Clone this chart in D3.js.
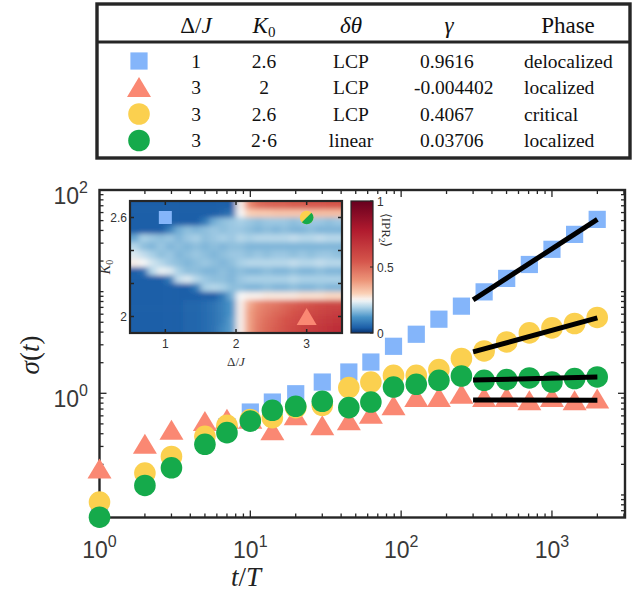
<!DOCTYPE html>
<html>
<head>
<meta charset="utf-8">
<script src="https://cdn.jsdelivr.net/npm/d3@7"></script>
<style>
  body { margin: 0; background: #fff; }
  svg { display: block; }
</style>
</head>
<body>
<div id="chart"></div>
<script>
// ---- data ----
const times = [1, 2, 3, 5, 7, 10, 14, 20, 30, 45, 63, 89, 126, 178, 251, 355, 501, 708, 1000, 1413, 1995];

// sigma(t) for the four parameter sets
const sigmaDeloc = [0.07, 0.14, 0.21, 0.34, 0.47, 0.654, 0.82, 0.99, 1.29, 1.62, 2.03, 2.9, 3.81, 5.36, 7.2, 9.95, 13.5, 18.5, 26.1, 36.6, 51.4];
const sigmaLocLCP = [0.182, 0.319, 0.439, 0.533, 0.563, 0.563, 0.432, 0.607, 0.484, 0.542, 0.631, 0.762, 0.92, 0.92, 0.99, 0.92, 0.92, 0.853, 0.92, 0.853, 0.887];
const sigmaCrit = [0.085, 0.164, 0.239, 0.377, 0.484, 0.551, 0.576, 0.723, 0.762, 1.14, 1.29, 1.5, 1.5, 1.71, 2.2, 2.61, 3.2, 3.93, 4.4, 4.86, 5.57];
const sigmaLocLin = [0.0604, 0.124, 0.185, 0.315, 0.41, 0.533, 0.68, 0.745, 0.834, 0.723, 0.82, 1.153, 1.227, 1.343, 1.48, 1.343, 1.364, 1.415, 1.29, 1.396, 1.447];

// table
const tabDelta = ["1", "3", "3", "3"];
const tabK0 = ["2.6", "2", "2.6", "2·6"];
const tabDtheta = ["LCP", "LCP", "LCP", "linear"];
const tabGamma = ["0.9616", "-0.004402", "0.4067", "0.03706"];
const tabPhase = ["delocalized", "localized", "critical", "localized"];

// power-law fits sigma ~ t^gamma over [300, 2000]
const fitRange = [300, 2000];
const fitGamma = [0.9616, -0.004402, 0.4067, 0.03706];
const fitEnd = [51.4, 0.853, 5.52, 1.447]; // sigma at t = 2000

const xTicks = [1, 10, 100, 1000];
const yTicks = [1, 100];

// inset: <IPR_2> over (Delta/J, K0)
const heatDelta = [0.5625, 0.6875, 0.8125, 0.9375, 1.0625, 1.1875, 1.3125, 1.4375, 1.5625, 1.6875, 1.8125, 1.9375,
                   2.0625, 2.1875, 2.3125, 2.4375, 2.5625, 2.6875, 2.8125, 2.9375, 3.0625, 3.1875, 3.3125, 3.4375];
const heatK0 = [2.675, 2.625, 2.575, 2.525, 2.475, 2.425, 2.375, 2.325, 2.275, 2.225, 2.175, 2.125, 2.075, 2.025, 1.975, 1.925];
const heatIPR = [
  [.04,.04,.04,.04,.04,.04,.04,.04,.04,.04,.04,.04, .26,.42,.49,.51,.52,.52,.53,.53,.54,.54,.55,.55],
  [.04,.04,.04,.04,.04,.04,.04,.04,.04,.04,.05,.07, .25,.30,.31,.31,.32,.32,.32,.32,.33,.33,.33,.33],
  [.04,.04,.04,.04,.04,.04,.04,.04,.08,.15,.17,.18, .19,.18,.17,.18,.18,.18,.17,.18,.18,.18,.17,.18],
  [.04,.04,.04,.04,.09,.15,.17,.16,.17,.18,.17,.18, .18,.17,.16,.17,.16,.17,.16,.16,.17,.16,.16,.16],
  [.14,.19,.18,.17,.18,.16,.18,.19,.17,.18,.19,.18, .20,.19,.20,.20,.20,.20,.21,.20,.20,.21,.20,.20],
  [.20,.17,.16,.18,.16,.17,.16,.17,.16,.17,.16,.17, .17,.16,.16,.16,.16,.16,.16,.16,.16,.16,.16,.16],
  [.23,.21,.19,.17,.18,.16,.17,.18,.17,.16,.17,.18, .18,.17,.18,.17,.18,.18,.17,.18,.17,.18,.18,.17],
  [.26,.25,.22,.20,.18,.17,.16,.17,.18,.17,.16,.17, .19,.20,.20,.20,.20,.20,.21,.20,.20,.21,.20,.20],
  [.04,.06,.20,.24,.23,.19,.17,.17,.16,.16,.17,.16, .17,.16,.16,.17,.16,.16,.17,.16,.16,.17,.16,.16],
  [.04,.04,.04,.04,.08,.21,.23,.20,.18,.17,.17,.16, .18,.19,.19,.19,.19,.19,.20,.19,.19,.19,.19,.19],
  [.04,.04,.04,.04,.04,.04,.04,.08,.19,.20,.19,.17, .17,.16,.16,.17,.16,.16,.17,.16,.16,.17,.16,.16],
  [.04,.04,.04,.04,.04,.04,.04,.04,.04,.04,.08,.15, .25,.26,.26,.27,.27,.27,.27,.28,.28,.28,.29,.29],
  [.04,.04,.04,.04,.04,.04,.05,.05,.06,.07,.09,.12, .26,.36,.42,.45,.47,.50,.52,.54,.56,.58,.60,.60],
  [.04,.04,.04,.04,.04,.04,.05,.05,.06,.07,.09,.12, .26,.38,.44,.47,.50,.52,.55,.57,.59,.61,.63,.64],
  [.04,.04,.04,.04,.04,.04,.05,.05,.06,.07,.09,.13, .26,.38,.45,.49,.52,.55,.57,.60,.62,.64,.66,.67],
  [.04,.04,.04,.04,.04,.04,.05,.05,.06,.07,.10,.13, .26,.38,.46,.50,.53,.56,.59,.62,.64,.66,.68,.70]
];
const insetDelta = [1, 3, 3];
const insetK0 = [2.6, 2.6, 2];
const insetXTicks = [1, 2, 3];
const insetYTicks = [2, 2.2, 2.4, 2.6];
const insetYLabels = ["2", "", "", "2.6"];
const cbTicks = [0, 0.5, 1];

// ---- styles ----
const W = 635, H = 593;
const ink = "#262626";
const blue = "#84b5fa", salmon = "#fa8873", gold = "#fbd04f", green = "#15aa4b";
const serif = "'Liberation Serif', 'Times New Roman', serif";
const sans = "'Liberation Sans', Arial, sans-serif";

const series = [
  { vals: sigmaDeloc, shape: "square", color: blue },
  { vals: sigmaLocLCP, shape: "triangle", color: salmon },
  { vals: sigmaCrit, shape: "circle", color: gold },
  { vals: sigmaLocLin, shape: "circle", color: green }
];

const svg = d3.select("#chart").append("svg")
  .attr("width", W).attr("height", H)
  .style("background", "#fff");
const defs = svg.append("defs");

function marker(sel, shape, color) {
  if (shape === "square") {
    sel.append("rect").attr("x", -8.6).attr("y", -8.6).attr("width", 17.2).attr("height", 17.2).attr("fill", color);
  } else if (shape === "triangle") {
    sel.append("path").attr("d", "M-12,10L12,10L0,-10Z").attr("fill", color);
  } else {
    sel.append("circle").attr("r", 10.8).attr("fill", color);
  }
}

// ---- table ----
const tab = svg.append("g");
tab.append("rect").attr("x", 97).attr("y", 4).attr("width", 533).attr("height", 154)
  .attr("fill", "none").attr("stroke", ink).attr("stroke-width", 3.4);
tab.append("line").attr("x1", 97).attr("x2", 630).attr("y1", 42).attr("y2", 42)
  .attr("stroke", ink).attr("stroke-width", 3);

const head = tab.append("g").attr("font-family", serif).attr("font-size", 23).attr("fill", "#111");
let ht = head.append("text").attr("x", 196).attr("y", 33).attr("text-anchor", "middle");
ht.append("tspan").text("Δ/");
ht.append("tspan").attr("font-style", "italic").text("J");
ht = head.append("text").attr("x", 264).attr("y", 33).attr("text-anchor", "middle");
ht.append("tspan").attr("font-style", "italic").text("K");
ht.append("tspan").attr("font-size", 15).attr("dy", 4).text("0");
head.append("text").attr("x", 351).attr("y", 33).attr("text-anchor", "middle").attr("font-style", "italic").text("δθ");
head.append("text").attr("x", 449).attr("y", 33).attr("text-anchor", "middle").attr("font-style", "italic").text("γ");
head.append("text").attr("x", 568).attr("y", 33).attr("text-anchor", "middle").text("Phase");

const rowY = [61, 87, 114, 140.5];
const rows = tab.selectAll("g.row").data(series).join("g").attr("class", "row")
  .attr("font-family", serif).attr("font-size", 19.5).attr("fill", "#111");
rows.each(function (s, i) {
  const g = d3.select(this);
  marker(g.append("g").attr("transform", `translate(139,${rowY[i]})`), s.shape, s.color);
  const by = rowY[i] + 6.5;
  g.append("text").attr("x", 196).attr("y", by).attr("text-anchor", "middle").text(tabDelta[i]);
  g.append("text").attr("x", 264).attr("y", by).attr("text-anchor", "middle").text(tabK0[i]);
  g.append("text").attr("x", 351).attr("y", by).attr("text-anchor", "middle").text(tabDtheta[i]);
  g.append("text").attr("x", tabGamma[i].startsWith("-") ? 414 : 420).attr("y", by).text(tabGamma[i]);
  g.append("text").attr("x", 524).attr("y", by).text(tabPhase[i]);
});

// ---- main axes ----
const x = d3.scaleLog().domain([1, 3050]).range([99.5, 625]);
const y = d3.scaleLog().domain([0.06, 100]).range([517.5, 190]);
const [x0, x1] = x.range(), [y0, y1] = y.range();

const isMajorX = d => xTicks.some(t => Math.abs(t - d) < 1e-9 * t);
const isMajorY = d => yTicks.some(t => Math.abs(t - d) < 1e-9 * t);
const ticksG = svg.append("g").attr("stroke", ink).attr("stroke-width", 1.3);
x.ticks().forEach(d => {
  const L = isMajorX(d) ? 7 : 4, px = x(d);
  if (px <= x0 + 1 || px >= x1 - 1) return;
  ticksG.append("line").attr("x1", px).attr("x2", px).attr("y1", y0).attr("y2", y0 - L);
  ticksG.append("line").attr("x1", px).attr("x2", px).attr("y1", y1).attr("y2", y1 + L);
});
y.ticks().forEach(d => {
  const L = isMajorY(d) ? 7 : 4, py = y(d);
  if (py >= y0 - 1 || py <= y1 + 1) return;
  ticksG.append("line").attr("y1", py).attr("y2", py).attr("x1", x0).attr("x2", x0 + L);
  ticksG.append("line").attr("y1", py).attr("y2", py).attr("x1", x1).attr("x2", x1 - L);
});
svg.append("rect").attr("x", x0).attr("y", y1).attr("width", x1 - x0).attr("height", y0 - y1)
  .attr("fill", "none").attr("stroke", ink).attr("stroke-width", 2.4);

const tl = svg.append("g").attr("font-family", sans).attr("font-size", 23).attr("fill", "#383838");
xTicks.forEach(d => {
  const t = tl.append("text").attr("x", x(d)).attr("y", 558).attr("text-anchor", "middle");
  t.append("tspan").text("10");
  t.append("tspan").attr("font-size", 16).attr("dy", -11).text(Math.round(Math.log10(d)));
});
yTicks.forEach(d => {
  const t = tl.append("text").attr("x", 88).attr("y", y(d) + 14).attr("text-anchor", "end");
  t.append("tspan").text("10");
  t.append("tspan").attr("font-size", 16).attr("dy", -11).text(Math.round(Math.log10(d)));
});

// axis labels
const xl = svg.append("text").attr("x", 246).attr("y", 586).attr("text-anchor", "middle")
  .attr("font-family", serif).attr("font-size", 27).attr("fill", "#222");
xl.append("tspan").attr("font-style", "italic").text("t");
xl.append("tspan").text("/");
xl.append("tspan").attr("font-style", "italic").text("T");
const yl = svg.append("text").attr("transform", "translate(39,355) rotate(-90)").attr("text-anchor", "middle")
  .attr("font-family", serif).attr("font-size", 27).attr("fill", "#222");
yl.append("tspan").attr("font-style", "italic").text("σ");
yl.append("tspan").text("(");
yl.append("tspan").attr("font-style", "italic").text("t");
yl.append("tspan").text(")");

// ---- data markers ----
series.forEach(s => {
  const g = svg.append("g");
  g.selectAll("g").data(times.map((t, i) => [t, s.vals[i]])).join("g")
    .attr("transform", d => `translate(${x(d[0])},${y(d[1])})`)
    .each(function () { marker(d3.select(this), s.shape, s.color); });
});

// ---- fit lines ----
const fitG = svg.append("g");
fitGamma.forEach((gm, i) => {
  const start = fitEnd[i] * Math.pow(fitRange[0] / fitRange[1], gm);
  fitG.append("line")
    .attr("x1", x(fitRange[0])).attr("y1", y(start))
    .attr("x2", x(fitRange[1])).attr("y2", y(fitEnd[i]))
    .attr("stroke", "#000").attr("stroke-width", 5);
});

// ---- inset ----
const ix = d3.scaleLinear().domain([0.5, 3.5]).range([130, 342]);
const iy = d3.scaleLinear().domain([1.9, 2.7]).range([333, 201]);
const cScale = d3.scaleLinear()
  .domain([0, 0.04, 0.12, 0.19, 0.25, 0.3, 0.4, 0.55, 0.78, 1])
  .range(["#08306b", "#1c5fa8", "#4a94c8", "#a9d0e6", "#f7f7f7", "#fad0b6", "#ec9478", "#d4534a", "#b01a2e", "#67001f"])
  .clamp(true);

const inset = svg.append("g");

defs.append("clipPath").attr("id", "heatClip").append("rect")
  .attr("x", ix(0.5)).attr("y", iy(2.7)).attr("width", ix(3.5) - ix(0.5)).attr("height", iy(1.9) - iy(2.7));
const soft = defs.append("filter").attr("id", "soft")
  .attr("filterUnits", "userSpaceOnUse")
  .attr("x", 100).attr("y", 180).attr("width", 280).attr("height", 180);
soft.append("feGaussianBlur").attr("stdDeviation", "3.4 2.8");

// edge cells are stretched past the frame so the blur does not fade at the border
const dH = (heatDelta[1] - heatDelta[0]) / 2;
const kH = (heatK0[0] - heatK0[1]) / 2;
const pad = 12;
const cells = [];
heatIPR.forEach((row, r) => row.forEach((v, c) => cells.push({ d: heatDelta[c], k: heatK0[r], v, c, r })));
const nC = heatDelta.length, nR = heatK0.length;
inset.append("g").attr("clip-path", "url(#heatClip)")
  .append("g").attr("filter", "url(#soft)")
  .selectAll("rect").data(cells).join("rect")
  .attr("x", d => ix(d.d - dH) - (d.c === 0 ? pad : 0))
  .attr("y", d => iy(d.k + kH) - (d.r === 0 ? pad : 0))
  .attr("width", d => ix(d.d + dH) - ix(d.d - dH) + 0.6 + (d.c === 0 || d.c === nC - 1 ? pad : 0))
  .attr("height", d => iy(d.k - kH) - iy(d.k + kH) + 0.6 + (d.r === 0 || d.r === nR - 1 ? pad : 0))
  .attr("fill", d => cScale(d.v));

// inset markers
const im = inset.append("g");
im.append("rect").attr("x", ix(insetDelta[0]) - 6.5).attr("y", iy(insetK0[0]) - 6.5)
  .attr("width", 13).attr("height", 13).attr("fill", blue);
{
  const cx = ix(insetDelta[1]), cy = iy(insetK0[1]), r = 6.8, a = r * Math.SQRT1_2;
  im.append("circle").attr("cx", cx).attr("cy", cy).attr("r", r).attr("fill", gold);
  im.append("path").attr("d", `M${cx + a},${cy - a}A${r},${r} 0 0 1 ${cx - a},${cy + a}Z`).attr("fill", green);
}
im.append("path")
  .attr("transform", `translate(${ix(insetDelta[2])},${iy(insetK0[2])})`)
  .attr("d", "M-10,8.5L10,8.5L0,-8.5Z").attr("fill", salmon);

// inset frame and ticks
const it = inset.append("g").attr("stroke", ink).attr("stroke-width", 1.5);
insetXTicks.forEach(d => {
  it.append("line").attr("x1", ix(d)).attr("x2", ix(d)).attr("y1", iy(1.9)).attr("y2", iy(1.9) - 4);
  it.append("line").attr("x1", ix(d)).attr("x2", ix(d)).attr("y1", iy(2.7)).attr("y2", iy(2.7) + 4);
});
insetYTicks.forEach(d => {
  it.append("line").attr("y1", iy(d)).attr("y2", iy(d)).attr("x1", ix(0.5)).attr("x2", ix(0.5) + 4);
  it.append("line").attr("y1", iy(d)).attr("y2", iy(d)).attr("x1", ix(3.5)).attr("x2", ix(3.5) - 4);
});
inset.append("rect").attr("x", ix(0.5)).attr("y", iy(2.7))
  .attr("width", ix(3.5) - ix(0.5)).attr("height", iy(1.9) - iy(2.7))
  .attr("fill", "none").attr("stroke", ink).attr("stroke-width", 2.2);

const itl = inset.append("g").attr("font-family", sans).attr("font-size", 12).attr("fill", "#333");
insetXTicks.forEach(d => itl.append("text").attr("x", ix(d)).attr("y", 348).attr("text-anchor", "middle").text(d));
insetYTicks.forEach((d, i) => itl.append("text").attr("x", 127).attr("y", iy(d) + 4.5).attr("text-anchor", "end").text(insetYLabels[i]));

const ixl = inset.append("text").attr("x", ix(2)).attr("y", 366).attr("text-anchor", "middle")
  .attr("font-family", serif).attr("font-size", 13).attr("fill", "#333");
ixl.append("tspan").text("Δ/");
ixl.append("tspan").attr("font-style", "italic").text("J");
const iyl = inset.append("text").attr("transform", `translate(110,${iy(2.3)}) rotate(-90)`).attr("text-anchor", "middle")
  .attr("font-family", serif).attr("font-size", 14).attr("fill", "#333");
iyl.append("tspan").attr("font-style", "italic").text("K");
iyl.append("tspan").attr("font-size", 10).attr("dy", 3).text("0");

// colorbar
const cb = d3.scaleLinear().domain([0, 1]).range([iy(1.9), iy(2.7)]);
const grad = defs.append("linearGradient").attr("id", "cbGrad")
  .attr("x1", 0).attr("y1", 1).attr("x2", 0).attr("y2", 0);
d3.range(0, 1.0001, 0.02).forEach(v => grad.append("stop").attr("offset", v).attr("stop-color", cScale(v)));
inset.append("rect").attr("x", 351).attr("y", cb(1)).attr("width", 22).attr("height", cb(0) - cb(1))
  .attr("fill", "url(#cbGrad)").attr("stroke", ink).attr("stroke-width", 1.2);
cbTicks.forEach(v => {
  inset.append("line").attr("x1", 373).attr("x2", 370).attr("y1", cb(v)).attr("y2", cb(v)).attr("stroke", ink);
  itl.append("text").attr("x", 377).attr("y", cb(v) + 4.5).text(v);
});
const cbl = inset.append("text").attr("transform", `translate(382,${cb(0.78)}) rotate(90)`).attr("text-anchor", "middle")
  .attr("font-family", serif).attr("font-size", 13).attr("fill", "#333");
cbl.append("tspan").text("⟨IPR");
cbl.append("tspan").attr("font-size", 9).attr("dy", 3).text("2");
cbl.append("tspan").attr("dy", -3).text("⟩");
</script>
</body>
</html>
